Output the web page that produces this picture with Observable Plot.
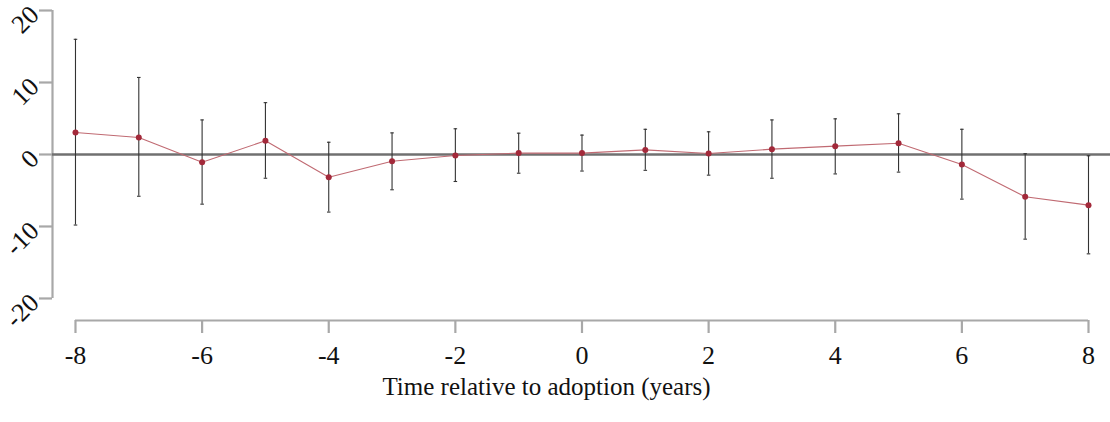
<!DOCTYPE html>
<html>
<head>
<meta charset="utf-8">
<script src="https://cdn.jsdelivr.net/npm/d3@7"></script>
<script src="https://cdn.jsdelivr.net/npm/@observablehq/plot@0.6"></script>
<style>
  html, body { margin: 0; padding: 0; background: #fff; }
  #chart svg { display: block; }
  #chart svg text { font-family: 'Liberation Serif', 'Times New Roman', serif; }
</style>
</head>
<body>
<div id="chart"></div>
<script>
const years = [-8, -7, -6, -5, -4, -3, -2, -1, 0, 1, 2, 3, 4, 5, 6, 7, 8];
const estimate = [3.06, 2.36, -1.07, 1.9, -3.15, -0.93, -0.14, 0.19, 0.19, 0.64, 0.14, 0.74, 1.16, 1.57, -1.39, -5.88, -7.04];
const lower = [-9.8, -5.8, -6.9, -3.3, -8.0, -4.9, -3.75, -2.6, -2.3, -2.2, -2.87, -3.3, -2.7, -2.45, -6.2, -11.76, -13.8];
const upper = [16.0, 10.7, 4.8, 7.2, 1.7, 3.0, 3.57, 2.96, 2.69, 3.5, 3.15, 4.8, 4.95, 5.65, 3.5, 0.1, -0.18];
const xTicks = [-8, -6, -4, -2, 0, 2, 4, 6, 8];
const yTicks = [-20, -10, 0, 10, 20];
const xTitle = "Time relative to adoption (years)";

const data = years.map((t, i) => ({t, est: estimate[i], lo: lower[i], hi: upper[i]}));

const xMin = d3.min(xTicks), xMax = d3.max(xTicks);
const yMin = d3.min(yTicks), yMax = d3.max(yTicks);
const xDomain = [-8.363, 8.3475];
const yDomain = [-23.06, 20];

const capSymbol = {
  draw(context, size) {
    const w = Math.sqrt(size) / 2;
    context.moveTo(-w, 0);
    context.lineTo(w, 0);
  }
};

const axisGray = "#a8a8a8";
const serif = "'Liberation Serif', 'Times New Roman', serif";

const chart = Plot.plot({
  width: 1110,
  height: 422,
  marginLeft: 52,
  marginRight: 0,
  marginTop: 10,
  marginBottom: 102,
  style: {fontFamily: serif, background: "#fff"},
  x: {domain: xDomain},
  y: {domain: yDomain},
  marks: [
    Plot.ruleX([xDomain[0]], {y1: yMin, y2: yMax, stroke: axisGray, strokeWidth: 2.2}),
    Plot.ruleY([yDomain[0]], {x1: xMin, x2: xMax, stroke: axisGray, strokeWidth: 2.2}),
    Plot.axisX({
      ticks: xTicks, tickSize: 13, tickPadding: 12, tickFormat: d => String(d),
      stroke: axisGray, strokeWidth: 2.2, fontSize: 26, fontFamily: serif, fill: "#111", label: null
    }),
    Plot.axisY({
      ticks: yTicks, tickSize: 13, tickPadding: 5, tickRotate: -45,
      tickFormat: d => String(d), stroke: axisGray, strokeWidth: 2.2, fontSize: 26, fontFamily: serif, fill: "#111", label: null
    }),
    Plot.ruleY([0], {stroke: "#707070", strokeWidth: 2.6}),
    Plot.ruleX(data, {x: "t", y1: "lo", y2: "hi", stroke: "#333", strokeWidth: 1.1}),
    Plot.dot(data, {x: "t", y: "lo", symbol: capSymbol, r: 2, stroke: "#333", strokeWidth: 1.1, fill: "none"}),
    Plot.dot(data, {x: "t", y: "hi", symbol: capSymbol, r: 2, stroke: "#333", strokeWidth: 1.1, fill: "none"}),
    Plot.line(data, {x: "t", y: "est", stroke: "#c06a72", strokeWidth: 1.1}),
    Plot.dot(data, {x: "t", y: "est", r: 3, fill: "#a3293a", stroke: "none"}),
    Plot.text([xTitle], {frameAnchor: "bottom", text: d => d, dy: 74, dx: -35, fontSize: 25, fontFamily: serif, fill: "#111"})
  ]
});

document.getElementById("chart").appendChild(chart);
</script>
</body>
</html>
